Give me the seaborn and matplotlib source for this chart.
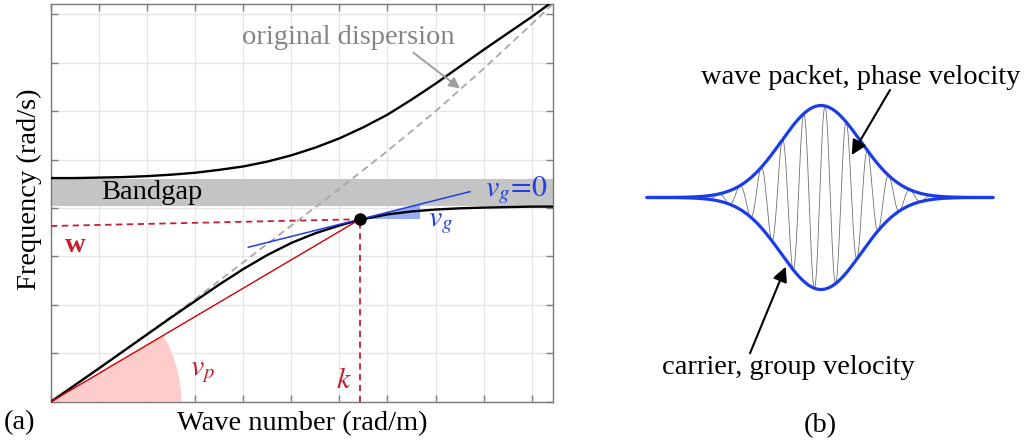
import numpy as np
import matplotlib
matplotlib.use("Agg")
import matplotlib.pyplot as plt
from matplotlib.patches import Wedge, Polygon, Rectangle
import seaborn as sns

# ---------------- data ----------------
# lower branch of the dispersion relation
k_lower = [0, 0.5, 1, 1.5, 2, 2.5, 3, 3.5, 4, 4.5, 5, 5.5, 6, 6.43, 7, 7.5,
           8, 8.5, 9, 9.5, 10, 10.45]
w_lower = [0, 0.345, 0.69, 1.04, 1.39, 1.74, 2.08, 2.42, 2.74, 3.03, 3.28,
           3.48, 3.64, 3.76, 3.87, 3.93, 3.97, 3.995, 4.01, 4.02, 4.03, 4.03]
# upper branch
k_upper = [0, 0.5, 1, 1.5, 2, 2.5, 3, 3.5, 4, 4.5, 5, 5.5, 6, 6.5, 7, 7.5,
           8, 8.5, 9, 9.5, 10, 10.36]
w_upper = [4.62, 4.62, 4.63, 4.64, 4.66, 4.69, 4.73, 4.79, 4.86, 4.96, 5.09,
           5.25, 5.44, 5.67, 5.93, 6.24, 6.57, 6.92, 7.27, 7.61, 7.95, 8.21]
# original (uncoupled) dispersion, dashed
k_orig = [0, 1, 2, 3, 4, 5, 6, 7, 8, 9, 10, 10.42]
w_orig = [0, 0.69, 1.40, 2.12, 2.88, 3.64, 4.40, 5.18, 6.00, 6.88, 7.80, 8.20]
# band gap limits
gap_low, gap_high = 4.05, 4.60
# operating point (k, w)
k0, w0 = 6.43, 3.77
w_marker_left = 3.63
# group-velocity tangent line ends
tan_k = [4.10, 8.72]
tan_w = [3.19, 4.34]
# group-velocity triangle corner
tri_k_end, tri_w_top = 7.68, 4.08
# phase-velocity wedge radius
vp_radius = 2.71
# axis ranges and grid
k_max, w_max = 10.45, 8.21
k_ticks = list(range(0, 11))
w_ticks = list(range(0, 9))

# wave packet (right panel, figure-pixel coordinates)
packet_x0, packet_x1 = 647, 993
packet_center, packet_base = 821, 197.5
packet_amp, packet_sigma = 92, 40
carrier_wavelength, carrier_peak = 21.3, 825

# ---------------- style ----------------
sns.set_theme(style="whitegrid")
plt.rcParams["font.family"] = ["Liberation Serif", "DejaVu Serif"]
plt.rcParams["mathtext.fontset"] = "stix"

RED = "#c81e32"
BLUE = "#1f3fe6"
FS = 20.5

fig = plt.figure(figsize=(10.3, 4.41), dpi=100)
W, H = 1030, 441
ax = fig.add_axes([51 / W, (H - 401.7) / H, 502.3 / W, 397.4 / H])

ax.set_xlim(0, k_max)
ax.set_ylim(0, w_max)
ax.set_xticks(k_ticks)
ax.set_yticks(w_ticks)
ax.grid(True, color="#e6e6e6", lw=1.0)
ax.set_axisbelow(True)
ax.tick_params(direction="in", length=5, width=1, color="#808080",
               top=True, right=True, bottom=True, left=True,
               labelbottom=False, labelleft=False)
for s in ax.spines.values():
    s.set_color("#7a7a7a")
    s.set_linewidth(1.0)
ax.set_facecolor("white")

# band gap
ax.add_patch(Rectangle((0, gap_low), k_max, gap_high - gap_low,
                       facecolor="#c4c4c4", edgecolor="none", zorder=1))
ax.text(1.05, 4.19, "Bandgap", fontsize=FS, color="black", ha="left",
        va="baseline", zorder=5)

# phase velocity wedge
ang = np.degrees(np.arctan2(w0, k0))
ax.add_patch(Wedge((0, 0), vp_radius, 0, ang, facecolor="#ffcccc",
                   edgecolor="none", zorder=1.5))

# original dispersion (dashed)
sns.lineplot(x=k_orig, y=w_orig, ax=ax, color="#a8a8a8", lw=1.3,
             linestyle=(0, (4, 2.5)), sort=False, estimator=None, zorder=2)

# dispersion branches
sns.lineplot(x=k_lower, y=w_lower, ax=ax, color="black", lw=1.7,
             sort=False, estimator=None, zorder=3)
sns.lineplot(x=k_upper, y=w_upper, ax=ax, color="black", lw=1.7,
             sort=False, estimator=None, zorder=3)

# red markers
ax.plot([0, k0], [0, w0], color="#d00000", lw=1.0, zorder=3.5)
ax.plot([0, k0], [w_marker_left, w0], color=RED, lw=1.3,
        linestyle=(0, (3.5, 2.5)), zorder=3.5)
ax.plot([k0, k0], [0, w0], color=RED, lw=1.3,
        linestyle=(0, (3.5, 2.5)), zorder=3.5)

# group velocity triangle and tangent
ax.add_patch(Polygon([[k0, w0], [tri_k_end, w0], [tri_k_end, tri_w_top]],
                     closed=True, facecolor="#98abfa", edgecolor="none",
                     zorder=2.5))
ax.plot(tan_k, tan_w, color=BLUE, lw=1.1, zorder=4)

# operating point
ax.plot([k0], [w0], "o", color="black", ms=8, zorder=6)

# annotations
ax.text(3.98, 7.40, "original dispersion", fontsize=FS, color="#858585",
        ha="left", va="baseline")
ax.annotate("", xy=(8.51, 6.47), xytext=(7.54, 7.21),
            arrowprops=dict(arrowstyle="-|>", color="#a0a0a0", lw=1.4,
                            mutation_scale=16, shrinkA=0, shrinkB=0))
ax.text(0.5, 3.10, "w", fontsize=FS, color=RED, fontweight="bold",
        ha="center", va="baseline")
ax.text(2.89, 0.55, r"$v_p$", fontsize=FS + 1, color=RED, ha="left",
        va="baseline")
ax.text(5.93, 0.29, r"$k$", fontsize=FS + 1, color=RED, ha="left",
        va="baseline")
ax.text(10.34, 4.24, r"$v_g\!=\!0$", fontsize=FS + 1, color=BLUE, ha="right",
        va="baseline")
ax.text(7.85, 3.62, r"$v_g$", fontsize=FS + 1, color=BLUE, ha="left",
        va="baseline")

# axis labels (drawn as axes-relative text)
ax.text(0.5, -(430 - 401.7) / 397.4, "Wave number (rad/m)", fontsize=FS,
        color="black", ha="center", va="baseline", transform=ax.transAxes)
ax.text(-(51 - 29.5) / 502.3, (401.7 - 189) / 397.4, "Frequency (rad/s)",
        fontsize=FS, color="black", ha="center", va="center", rotation=90,
        transform=ax.transAxes)

# ---------------- right panel (pixel coordinates) ----------------
ax2 = fig.add_axes([0, 0, 1, 1], facecolor="none")
ax2.set_xlim(0, W)
ax2.set_ylim(H, 0)
ax2.axis("off")

xs = np.linspace(packet_x0, packet_x1, 1500)
env = np.exp(-((xs - packet_center) ** 2) / (2 * packet_sigma ** 2))
carrier = np.cos(2 * np.pi * (xs - carrier_peak) / carrier_wavelength)
sns.lineplot(x=xs, y=packet_base - packet_amp * env * carrier, ax=ax2,
             color="#707070", lw=0.6, sort=False, estimator=None)
sns.lineplot(x=xs, y=packet_base - packet_amp * env, ax=ax2, color="#1a3de6",
             lw=2.3, sort=False, estimator=None)
sns.lineplot(x=xs, y=packet_base + packet_amp * env, ax=ax2, color="#1a3de6",
             lw=2.3, sort=False, estimator=None)

ax2.text(861, 84, "wave packet, phase velocity", fontsize=FS, ha="center",
         va="baseline", color="black")
ax2.text(788, 373.5, "carrier, group velocity", fontsize=FS, ha="center",
         va="baseline", color="black")
ax2.annotate("", xy=(851.7, 155), xytext=(890, 90),
             arrowprops=dict(arrowstyle="-|>", color="black", lw=1.5,
                             mutation_scale=22, shrinkA=0, shrinkB=0))
ax2.annotate("", xy=(785.7, 266.7), xytext=(750, 353.3),
             arrowprops=dict(arrowstyle="-|>", color="black", lw=1.5,
                             mutation_scale=22, shrinkA=0, shrinkB=0))

ax2.text(4, 429, "(a)", fontsize=FS, ha="left", va="baseline", color="black")
ax2.text(820.5, 432, "(b)", fontsize=FS, ha="center", va="baseline",
         color="black")

fig.savefig("out.png", dpi=100)
